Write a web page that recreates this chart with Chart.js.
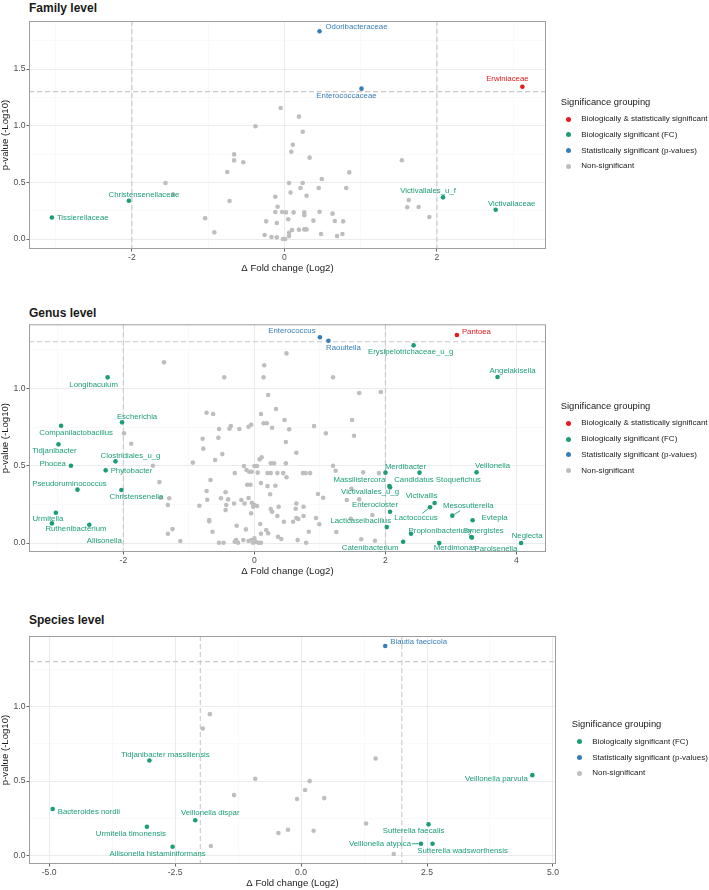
<!DOCTYPE html>
<html>
<head>
<meta charset="utf-8">
<script src="https://cdn.jsdelivr.net/npm/chart.js@4.4.1/dist/chart.umd.min.js"></script>
<style>
  body { margin: 0; background: #fff; width: 709px; height: 890px; position: relative; overflow: hidden;
         font-family: "Liberation Sans", Arial, Helvetica, sans-serif; }
  .panel { position: absolute; left: 0; width: 709px; }
  .ptitle { position: absolute; left: 29px; font-weight: bold; font-size: 12px; line-height: 14px; color: #1a1a1a; }
  .legend { position: absolute; color: #1a1a1a; }
  .legend .lt { position: absolute; left: 0; font-size: 9.4px; line-height: 12px; white-space: nowrap; }
  .legend .dot { position: absolute; width: 5px; height: 5px; border-radius: 50%; }
  .legend .li { position: absolute; font-size: 8px; line-height: 10px; white-space: nowrap; }
</style>
</head>
<body>
<div class="ptitle" style="top:1px">Family level</div>
<div class="ptitle" style="top:306px">Genus level</div>
<div class="ptitle" style="top:613px">Species level</div>

<div class="panel" style="top:0px;height:275px"><canvas id="familyChart"></canvas></div>
<div class="panel" style="top:295px;height:283px"><canvas id="genusChart"></canvas></div>
<div class="panel" style="top:590px;height:300px"><canvas id="speciesChart"></canvas></div>

<div id="familyLegend" class="legend"></div>
<div id="genusLegend" class="legend"></div>
<div id="speciesLegend" class="legend"></div>

<script>
const FONT = '"Liberation Sans", Arial, Helvetica, sans-serif';
const groupColors = { both: "#E41A1C", fc: "#1B9E77", p: "#377EB8", ns: "#BEBEBE" };
const groupLabels = {
  both: "Biologically & statistically significant",
  fc: "Biologically significant (FC)",
  p: "Statistically significant (p-values)",
  ns: "Non-significant",
};
const fcCutoffs = [-2, 2];
const pCutoff = -Math.log10(0.05);
const xTitle = "\u0394 Fold change (Log2)";
const yTitle = "p-value (-Log10)";

// ---- Family level ----
const familySig = [
  ["Odoribacteraceae", 0.46, 1.833, "p"],
  ["Enterococcaceae", 1.01, 1.327, "p"],
  ["Erwiniaceae", 3.12, 1.344, "both"],
  ["Christensenellaceae", -2.04, 0.338, "fc"],
  ["Tissierellaceae", -3.05, 0.19, "fc"],
  ["Victivallales_u_f", 2.08, 0.368, "fc"],
  ["Victivallaceae", 2.77, 0.259, "fc"],
];
const familyGrey = [
  [-0.05, 1.156], [0.19, 1.08], [-0.38, 0.995], [0.24, 0.947], [0.11, 0.832], [0.09, 0.77],
  [-0.66, 0.747], [-0.66, 0.694], [-0.54, 0.677], [0.33, 0.718], [1.54, 0.695], [-0.75, 0.591],
  [0.85, 0.588], [-1.56, 0.494], [0.06, 0.494], [0.24, 0.494], [0.49, 0.53], [0.45, 0.45],
  [0.21, 0.45], [0.81, 0.45], [-1.46, 0.394], [0.08, 0.41], [-0.12, 0.373], [0.29, 0.382],
  [-0.72, 0.335], [1.63, 0.344], [1.61, 0.28], [1.76, 0.282], [-0.09, 0.285], [-0.12, 0.238],
  [-0.03, 0.238], [0.02, 0.235], [0.12, 0.235], [0.26, 0.235], [0.26, 0.21], [0.46, 0.24],
  [0.63, 0.224], [-1.04, 0.183], [-0.24, 0.156], [-0.1, 0.141], [0.05, 0.174], [0.38, 0.162],
  [0.66, 0.159], [0.77, 0.156], [1.9, 0.194], [-0.92, 0.059], [-0.26, 0.035], [-0.17, 0.018],
  [-0.1, 0.015], [-0.02, 0.0], [0.01, 0.0], [0.06, 0.026], [0.06, 0.055], [0.1, 0.08],
  [0.19, 0.082], [0.26, 0.085], [0.29, 0.085], [0.48, 0.044], [0.69, 0.026], [0.76, 0.044],
];
const familyXTicks = [-2, 0, 2];
const familyXTickLabels = ["-2", "0", "2"];
const familyXMinor = [-3, -1, 1, 3];
const familyYTicks = [0, 0.5, 1, 1.5];
const familyYTickLabels = ["0.0", "0.5", "1.0", "1.5"];
const familyYMinor = [0.25, 0.75, 1.25, 1.75];

// ---- Genus level ----
const genusSig = [
  ["Enterococcus", 1.0, 1.33, "p"],
  ["Raoultella", 1.13, 1.308, "p"],
  ["Pantoea", 3.09, 1.345, "both"],
  ["Erysipelotrichaceae_u_g", 2.43, 1.278, "fc"],
  ["Angelakisella", 3.71, 1.073, "fc"],
  ["Longibaculum", -2.24, 1.071, "fc"],
  ["Escherichia", -2.02, 0.78, "fc"],
  ["Companilactobacillus", -2.95, 0.758, "fc"],
  ["Tidjanibacter", -2.99, 0.638, "fc"],
  ["Clostridiales_u_g", -2.12, 0.528, "fc"],
  ["Phocea", -2.8, 0.5, "fc"],
  ["Phytobacter", -2.27, 0.47, "fc"],
  ["Pseudoruminococcus", -2.7, 0.345, "fc"],
  ["Christensenella", -2.03, 0.343, "fc"],
  ["Urmitella", -3.03, 0.196, "fc"],
  ["Ruthenibacterium", -3.09, 0.127, "fc"],
  ["Allisonella", -2.52, 0.118, "fc"],
  ["Merdibacter", 2.0, 0.455, "fc"],
  ["Candidatus Stoquefichus", 2.52, 0.455, "fc"],
  ["Veillonella", 3.39, 0.457, "fc"],
  ["Massilistercora", 2.06, 0.368, "fc"],
  ["Victivallales_u_g", 2.07, 0.36, "fc"],
  ["Victivallis", 2.75, 0.259, "fc"],
  ["Lactococcus", 2.68, 0.231, "fc"],
  ["Enterocloster", 2.07, 0.202, "fc"],
  ["Mesosutterella", 3.02, 0.177, "fc"],
  ["Evtepia", 3.33, 0.147, "fc"],
  ["Lacticaseibacillus", 2.02, 0.103, "fc"],
  ["Propionibacterium", 2.39, 0.06, "fc"],
  ["Synergistes", 3.31, 0.039, "fc"],
  ["Parolsenella", 3.32, 0.035, "fc"],
  ["Catenibacterium", 2.27, 0.008, "fc"],
  ["Merdimonas", 2.82, 0.0, "fc"],
  ["Neglecta", 4.07, 0.0, "fc"],
];
const genusGrey = [
  [-1.38, 1.168], [-0.73, 0.842], [-0.63, 0.834], [-1.99, 0.709], [-1.88, 0.642], [-0.79, 0.674],
  [-0.78, 0.61], [-0.54, 0.737], [-0.55, 0.681], [-0.6, 0.537], [-0.94, 0.52], [-1.55, 0.5],
  [-1.45, 0.394], [-0.67, 0.407], [-0.73, 0.336], [-0.72, 0.28], [-1.43, 0.293], [-1.3, 0.289],
  [-1.32, 0.246], [-0.84, 0.241], [-0.69, 0.149], [-0.69, 0.14], [-0.64, 0.073], [-1.25, 0.09],
  [-1.32, 0.06], [-1.13, 0.013], [-0.54, 0.002],
  [0.49, 1.226], [0.15, 1.149], [0.14, 1.071], [-0.46, 1.071], [0.21, 0.957], [0.33, 0.866],
  [0.1, 0.834], [0.14, 0.774], [0.19, 0.774], [-0.36, 0.756], [-0.38, 0.739], [-0.23, 0.737],
  [-0.09, 0.752], [-0.05, 0.765], [0.27, 0.745], [0.46, 0.795], [0.53, 0.735], [0.91, 0.756],
  [0.48, 0.653], [0.64, 0.584], [-0.49, 0.575], [0.11, 0.554], [0.08, 0.541], [-0.16, 0.498],
  [0.0, 0.498], [0.04, 0.498], [0.25, 0.515], [0.3, 0.515], [0.48, 0.515], [-0.12, 0.472],
  [-0.08, 0.461], [-0.04, 0.461], [0.05, 0.455], [-0.3, 0.452], [0.2, 0.452], [0.25, 0.452],
  [0.35, 0.452], [0.44, 0.452], [0.49, 0.425], [0.74, 0.452], [0.78, 0.452], [0.85, 0.452],
  [-0.11, 0.377], [-0.06, 0.377], [0.1, 0.388], [0.2, 0.368], [0.32, 0.37], [-0.44, 0.328],
  [0.24, 0.315], [0.97, 0.317], [-0.51, 0.289], [-0.4, 0.282], [-0.31, 0.256], [-0.2, 0.278],
  [-0.15, 0.256], [-0.09, 0.291], [-0.04, 0.26], [0.0, 0.246], [-0.02, 0.235], [0.04, 0.239],
  [-0.44, 0.213], [-0.43, 0.246], [-0.05, 0.192], [0.25, 0.22], [0.27, 0.202], [0.37, 0.235],
  [0.64, 0.256], [0.63, 0.222], [0.64, 0.162], [0.67, 0.155], [0.35, 0.175], [0.75, 0.235],
  [0.75, 0.175], [0.45, 0.138], [0.59, 0.138], [0.94, 0.162], [0.99, 0.121], [0.09, 0.123],
  [-0.27, 0.112], [-0.13, 0.088], [0.18, 0.084], [0.21, 0.063], [0.1, 0.06], [0.36, 0.041],
  [0.41, 0.026], [0.83, 0.073], [0.66, 0.019], [0.79, 0.002], [-0.47, 0.002], [-0.3, 0.008],
  [-0.25, 0.002], [-0.28, 0.019], [-0.17, 0.019], [-0.09, 0.013], [-0.05, 0.019], [0.0, 0.03],
  [0.02, 0.008], [0.06, 0.002], [0.1, 0.002], [-0.02, 0.002],
  [1.2, 1.071], [1.6, 0.97], [1.93, 0.976], [1.49, 0.795], [1.09, 0.709], [1.52, 0.694],
  [1.2, 0.5], [1.24, 0.467], [1.66, 0.457], [1.9, 0.452], [1.05, 0.293], [1.48, 0.351],
  [1.41, 0.278], [1.6, 0.282], [1.8, 0.181], [1.47, 0.157], [1.25, 0.071], [1.63, 0.024],
  [1.84, 0.015],
];
const genusXTicks = [-2, 0, 2, 4];
const genusXTickLabels = ["-2", "0", "2", "4"];
const genusXMinor = [-3, -1, 1, 3];
const genusYTicks = [0, 0.5, 1];
const genusYTickLabels = ["0.0", "0.5", "1.0"];
const genusYMinor = [0.25, 0.75, 1.25];

// ---- Species level ----
const speciesSig = [
  ["Blautia faecicola", 1.67, 1.406, "p"],
  ["Tidjanibacter massiliensis", -3.01, 0.638, "fc"],
  ["Bacteroides nordii", -4.93, 0.313, "fc"],
  ["Veillonella dispar", -2.1, 0.237, "fc"],
  ["Urmitella timonensis", -3.06, 0.194, "fc"],
  ["Allisonella histaminiformans", -2.55, 0.06, "fc"],
  ["Sutterella faecalis", 2.53, 0.21, "fc"],
  ["Veillonella atypica", 2.38, 0.08, "fc"],
  ["Sutterella wadsworthensis", 2.61, 0.08, "fc"],
  ["Veillonella parvula", 4.59, 0.54, "fc"],
];
const speciesGrey = [
  [-1.81, 0.949], [-1.95, 0.853], [-0.91, 0.516], [-1.33, 0.406], [0.17, 0.5], [0.08, 0.44],
  [-0.08, 0.38], [0.46, 0.386], [1.48, 0.652], [1.29, 0.216], [-0.45, 0.152], [-0.26, 0.174],
  [0.25, 0.167], [-1.79, 0.065], [1.84, 0.011],
];
const speciesXTicks = [-5, -2.5, 0, 2.5, 5];
const speciesXTickLabels = ["-5.0", "-2.5", "0.0", "2.5", "5.0"];
const speciesXMinor = [-3.75, -1.25, 1.25, 3.75];
const speciesYTicks = [0, 0.5, 1];
const speciesYTickLabels = ["0.0", "0.5", "1.0"];
const speciesYMinor = [0.25, 0.75, 1.25];

// label placement (anchor, dx, dy, leader line) in pixels from the point
const familyLabelPos = {
  "Odoribacteraceae": ["l", 6, -4], "Enterococcaceae": ["c", -15, 7], "Erwiniaceae": ["c", -15, -8],
  "Christensenellaceae": ["c", 15, -6], "Tissierellaceae": ["l", 5, 0],
  "Victivallales_u_f": ["c", -15, -6], "Victivallaceae": ["c", 16, -6],
};
const genusLabelPos = {
  "Enterococcus": ["c", -28, -6], "Raoultella": ["c", 15, 7], "Pantoea": ["l", 5, -3],
  "Erysipelotrichaceae_u_g": ["c", -3, 7], "Angelakisella": ["c", 15, -6], "Longibaculum": ["c", -14, 7],
  "Escherichia": ["c", 15, -6], "Companilactobacillus": ["c", 15, 7], "Tidjanibacter": ["c", -4, 7],
  "Clostridiales_u_g": ["c", 15, -6], "Phocea": ["r", -5, -2], "Phytobacter": ["l", 5, 1],
  "Pseudoruminococcus": ["c", -8, -6], "Christensenella": ["c", 15, 7], "Urmitella": ["c", -8, 6],
  "Ruthenibacterium": ["c", 24, 5], "Allisonella": ["c", 15, 16], "Merdibacter": ["c", 20, -6],
  "Candidatus Stoquefichus": ["c", 18, 7], "Veillonella": ["c", 16, -6], "Massilistercora": ["c", -30, -6],
  "Victivallales_u_g": ["c", -20, 5], "Victivallis": ["c", -13, -7], "Lactococcus": ["c", -14, 11, true],
  "Enterocloster": ["c", -15, -7], "Mesosutterella": ["c", 16, -10, true], "Evtepia": ["l", 9, -2],
  "Lacticaseibacillus": ["c", -26, -6], "Propionibacterium": ["c", 29, -3], "Synergistes": ["c", 12, -6],
  "Parolsenella": ["c", 24, 11], "Catenibacterium": ["c", -33, 6], "Merdimonas": ["c", 16, 5],
  "Neglecta": ["c", 6, -7],
};
const speciesLabelPos = {
  "Blautia faecicola": ["l", 5, -4], "Tidjanibacter massiliensis": ["c", 16, -6],
  "Bacteroides nordii": ["l", 5, 3], "Veillonella dispar": ["c", 15, -7],
  "Urmitella timonensis": ["c", -16, 7], "Allisonella histaminiformans": ["c", -15, 7],
  "Sutterella faecalis": ["c", -15, 7], "Veillonella atypica": ["r", -10, 0, true],
  "Sutterella wadsworthensis": ["c", 30, 7], "Veillonella parvula": ["c", -36, 4],
};

const guideLines = {
  id: "guideLines",
  beforeDatasetsDraw(chart) {
    const { ctx, chartArea: a, scales: { x, y } } = chart;
    ctx.save();
    ctx.strokeStyle = "#C8C8C8";
    ctx.lineWidth = 1.1;
    ctx.setLineDash([5, 3]);
    ctx.beginPath();
    fcCutoffs.forEach((v) => {
      const px = x.getPixelForValue(v);
      ctx.moveTo(px, a.top);
      ctx.lineTo(px, a.bottom);
    });
    const py = y.getPixelForValue(pCutoff);
    ctx.moveTo(a.left, py);
    ctx.lineTo(a.right, py);
    ctx.stroke();
    ctx.restore();
  },
  afterDraw(chart) {
    const { ctx, chartArea: a } = chart;
    ctx.save();
    ctx.strokeStyle = "#9E9E9E";
    ctx.lineWidth = 1;
    ctx.strokeRect(a.left + 0.5, a.top + 0.5, a.right - a.left - 1, a.bottom - a.top - 1);
    ctx.restore();
  },
};

const pointLabels = {
  id: "pointLabels",
  afterDatasetsDraw(chart, args, opts) {
    const { ctx } = chart;
    ctx.save();
    ctx.font = `7.8px ${FONT}`;
    ctx.textBaseline = "middle";
    chart.data.datasets.forEach((ds, di) => {
      if (!ds.names) return;
      const meta = chart.getDatasetMeta(di);
      meta.data.forEach((pt, i) => {
        const name = ds.names[i];
        const [anchor, dx, dy, leader] = opts.placement[name] || ["l", 5, 0];
        const w = ctx.measureText(name).width;
        const tx = pt.x + dx;
        const ty = pt.y + dy;
        ctx.fillStyle = ds.backgroundColor;
        ctx.textAlign = anchor === "l" ? "left" : anchor === "r" ? "right" : "center";
        ctx.fillText(name, tx, ty);
        if (leader) {
          const cx = anchor === "l" ? tx + w / 2 : anchor === "r" ? tx - w / 2 : tx;
          const vx = pt.x - cx;
          const vy = pt.y - ty;
          const len = Math.hypot(vx, vy);
          const t = Math.min((w / 2 + 1) / Math.abs(vx || 1e-6), 5 / Math.abs(vy || 1e-6));
          const sx = cx + vx * t;
          const sy = ty + vy * t;
          const ex = pt.x - (vx / len) * 2.5;
          const ey = pt.y - (vy / len) * 2.5;
          ctx.strokeStyle = ds.backgroundColor;
          ctx.lineWidth = 0.9;
          ctx.beginPath();
          ctx.moveTo(sx, sy);
          ctx.lineTo(ex, ey);
          ctx.stroke();
        }
      });
    });
    ctx.restore();
  },
};

function makeAxis(min, max, major, majorLabels, minor, title, isX) {
  const isMajor = (v) => major.includes(v);
  return {
    type: "linear",
    min,
    max,
    afterBuildTicks: (s) => {
      s.ticks = major.concat(minor).filter((v) => v >= min && v <= max)
        .sort((a, b) => a - b).map((v) => ({ value: v }));
    },
    afterFit: (s) => {
      if (isX) s.height = 26;
      else s.width = 29;
    },
    ticks: {
      autoSkip: false,
      maxRotation: 0,
      padding: 1,
      color: "#4D4D4D",
      font: { size: 8.6, family: FONT },
      callback: (v) => {
        const i = major.indexOf(v);
        return i >= 0 ? majorLabels[i] : "";
      },
    },
    grid: {
      color: (c) => (c.tick && isMajor(c.tick.value) ? "#EBEBEB" : "#F5F5F5"),
      lineWidth: (c) => (c.tick && isMajor(c.tick.value) ? 1 : 0.6),
      tickLength: 2.5,
      tickColor: (c) => (c.tick && isMajor(c.tick.value) ? "#666" : "rgba(0,0,0,0)"),
    },
    border: { display: false },
    title: {
      display: true,
      text: title,
      color: "#1a1a1a",
      font: { size: 9.6, family: FONT },
      padding: isX ? { top: 0, bottom: 1 } : { top: 0, bottom: 0 },
    },
  };
}

function buildPanel(id, cfg) {
  const groups = ["both", "fc", "p"];
  const datasets = groups
    .map((g) => {
      const rows = cfg.sig.filter((r) => r[3] === g);
      return {
        data: rows.map((r) => ({ x: r[1], y: r[2] })),
        names: rows.map((r) => r[0]),
        backgroundColor: groupColors[g],
      };
    })
    .filter((d) => d.data.length);
  datasets.push({
    data: cfg.grey.map((p) => ({ x: p[0], y: p[1] })),
    backgroundColor: groupColors.ns,
  });
  datasets.forEach((d) => {
    d.pointRadius = 2.3;
    d.borderWidth = 0;
  });

  new Chart(document.getElementById(id), {
    type: "scatter",
    data: { datasets },
    options: {
      responsive: true,
      maintainAspectRatio: false,
      animation: false,
      events: [],
      layout: { padding: { left: 0, top: cfg.padTop, right: 709 - cfg.plotRight, bottom: 0 } },
      scales: {
        x: makeAxis(cfg.xMin, cfg.xMax, cfg.xTicks, cfg.xTickLabels, cfg.xMinor, xTitle, true),
        y: makeAxis(cfg.yMin, cfg.yMax, cfg.yTicks, cfg.yTickLabels, cfg.yMinor, yTitle, false),
      },
      plugins: {
        legend: { display: false },
        tooltip: { enabled: false },
        pointLabels: { placement: cfg.placement },
      },
    },
    plugins: [guideLines, pointLabels],
  });
}

function buildLegend(id, left, titleY, firstY, groups) {
  const el = document.getElementById(id);
  el.style.left = left + "px";
  el.style.top = "0px";
  let html = `<div class="lt" style="top:${titleY - 6}px">Significance grouping</div>`;
  groups.forEach((g, i) => {
    const cy = firstY + i * 15.8;
    html += `<div class="dot" style="left:${5}px;top:${cy - 2.5}px;background:${groupColors[g]}"></div>`;
    html += `<div class="li" style="left:${20.6}px;top:${cy - 5}px">${groupLabels[g].replace("&", "&amp;")}</div>`;
  });
  el.innerHTML = html;
}

buildPanel("familyChart", {
  sig: familySig, grey: familyGrey, placement: familyLabelPos,
  padTop: 21, plotRight: 546,
  xMin: -3.35, xMax: 3.43, yMin: -0.088, yMax: 1.924,
  xTicks: familyXTicks, xTickLabels: familyXTickLabels, xMinor: familyXMinor,
  yTicks: familyYTicks, yTickLabels: familyYTickLabels, yMinor: familyYMinor,
});
buildPanel("genusChart", {
  sig: genusSig, grey: genusGrey, placement: genusLabelPos,
  padTop: 29.3, plotRight: 546,
  xMin: -3.44, xMax: 4.45, yMin: -0.058, yMax: 1.414,
  xTicks: genusXTicks, xTickLabels: genusXTickLabels, xMinor: genusXMinor,
  yTicks: genusYTicks, yTickLabels: genusYTickLabels, yMinor: genusYMinor,
});
buildPanel("speciesChart", {
  sig: speciesSig, grey: speciesGrey, placement: speciesLabelPos,
  padTop: 46, plotRight: 556,
  xMin: -5.4, xMax: 5.06, yMin: -0.056, yMax: 1.473,
  xTicks: speciesXTicks, xTickLabels: speciesXTickLabels, xMinor: speciesXMinor,
  yTicks: speciesYTicks, yTickLabels: speciesYTickLabels, yMinor: speciesYMinor,
});

buildLegend("familyLegend", 560.7, 102, 119, ["both", "fc", "p", "ns"]);
buildLegend("genusLegend", 560.7, 405.7, 423.3, ["both", "fc", "p", "ns"]);
buildLegend("speciesLegend", 571.7, 724, 741.7, ["fc", "p", "ns"]);
</script>
</body>
</html>
